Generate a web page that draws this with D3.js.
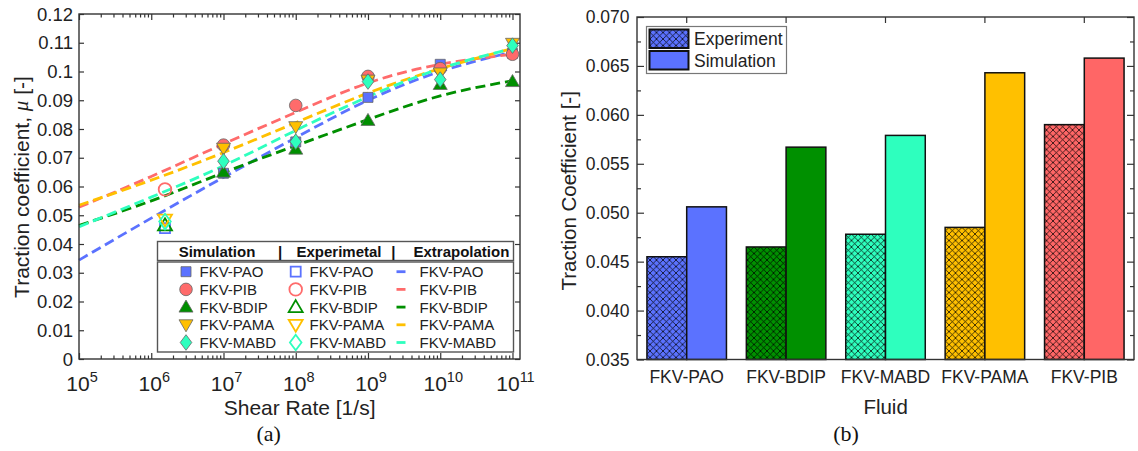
<!doctype html>
<html>
<head>
<meta charset="utf-8">
<script src="https://cdn.jsdelivr.net/npm/d3@7"></script>
<style>
  body { margin: 0; background: #fff; }
  svg { display: block; font-family: "Liberation Sans", Arial, sans-serif; }
</style>
</head>
<body>
<svg id="fig" width="1138" height="451"></svg>
<script>
// ---------- panel (a) : traction vs shear rate ----------
const fluidsA = ["FKV-PAO", "FKV-PIB", "FKV-BDIP", "FKV-PAMA", "FKV-MABD"];
const colorsA = ["#5b72ff", "#ff6b6b", "#008f00", "#ffc000", "#2effbe"];
const shapesA = ["square", "circle", "up", "down", "diamond"];

const simRates = [1e7, 1e8, 1e9, 1e10, 1e11];
const simPAO  = [0.0646, 0.0755, 0.0910, 0.1025, 0.1063];
const simPIB  = [0.0744, 0.0882, 0.0983, 0.1010, 0.1060];
const simBDIP = [0.0650, 0.0730, 0.0830, 0.0955, 0.0965];
const simPAMA = [0.0733, 0.0808, 0.0970, 0.0995, 0.1098];
const simMABD = [0.0688, 0.0756, 0.0965, 0.0972, 0.1090];

const expRate = 1.55e6;
const expVals = [0.0455, 0.0590, 0.0465, 0.0485, 0.0478];

const extRates = [1e5, 1e6, 1e7, 1e8, 1e9, 1e10, 1e11];
const extPAO  = [0.0344, 0.0490, 0.0632, 0.0770, 0.0900, 0.1000, 0.1068];
const extPIB  = [0.0528, 0.0635, 0.0748, 0.0858, 0.0960, 0.1025, 0.1060];
const extBDIP = [0.0465, 0.0550, 0.0648, 0.0742, 0.0833, 0.0915, 0.0968];
const extPAMA = [0.0535, 0.0622, 0.0718, 0.0822, 0.0925, 0.1010, 0.1080];
const extMABD = [0.0460, 0.0563, 0.0672, 0.0795, 0.0912, 0.1010, 0.1080];

const simA = [simPAO, simPIB, simBDIP, simPAMA, simMABD];
const extA = [extPAO, extPIB, extBDIP, extPAMA, extMABD];
const yTicksA = [0, 0.01, 0.02, 0.03, 0.04, 0.05, 0.06, 0.07, 0.08, 0.09, 0.1, 0.11, 0.12];
const xTicksA = [1e5, 1e6, 1e7, 1e8, 1e9, 1e10, 1e11];

// ---------- panel (b) : bar comparison ----------
const fluidsB = ["FKV-PAO", "FKV-BDIP", "FKV-MABD", "FKV-PAMA", "FKV-PIB"];
const colorsB = ["#5b72ff", "#009000", "#2effbe", "#ffc000", "#ff6666"];
const seriesB = ["Experiment", "Simulation"];
const expB = [0.0455, 0.0465, 0.0478, 0.0485, 0.0590];
const simB = [0.0506, 0.0567, 0.0579, 0.0643, 0.0658];
const yTicksB = [0.035, 0.040, 0.045, 0.050, 0.055, 0.060, 0.065, 0.070];

const svg = d3.select("#fig");
const frameColor = "#333";

// marker drawing
function marker(g, shape, color, filled, x, y) {
  const stroke = filled ? "#666" : color;
  const sw = filled ? 0.8 : 1.8;
  const fill = filled ? color : "none";
  let el;
  if (shape === "circle") {
    el = g.append("circle").attr("cx", x).attr("cy", y).attr("r", 6.3);
  } else {
    const p = {
      square: "M-5,-5h10v10h-10Z",
      up: "M0,-7L7,5L-7,5Z",
      down: "M0,7L7,-5L-7,-5Z",
      diamond: "M0,-7.8L5.8,0L0,7.8L-5.8,0Z"
    }[shape];
    el = g.append("path").attr("d", p).attr("transform", `translate(${x},${y})`);
  }
  el.attr("fill", fill).attr("stroke", stroke).attr("stroke-width", sw);
}

// ====== panel (a) ======
const A = { x0: 79, x1: 520, y0: 14, y1: 359 };
const ax = d3.scaleLog().domain([1e5, Math.pow(10, 11.104)]).range([A.x0, A.x1]);
const ay = d3.scaleLinear().domain([0, 0.12]).range([A.y1, A.y0]);
const ga = svg.append("g");

const minorA = ax.ticks().filter(v => !xTicksA.includes(v));

ga.append("g").attr("transform", `translate(0,${A.y1})`)
  .call(d3.axisBottom(ax).tickValues(xTicksA).tickSize(-6).tickFormat(""));
ga.append("g").attr("transform", `translate(0,${A.y1})`)
  .call(d3.axisBottom(ax).tickValues(minorA).tickSize(-3.5).tickFormat(""));
ga.append("g").attr("transform", `translate(0,${A.y0})`)
  .call(d3.axisTop(ax).tickValues(xTicksA).tickSize(-6).tickFormat(""));
ga.append("g").attr("transform", `translate(0,${A.y0})`)
  .call(d3.axisTop(ax).tickValues(minorA).tickSize(-3.5).tickFormat(""));
ga.append("g").attr("transform", `translate(${A.x0},0)`)
  .call(d3.axisLeft(ay).tickValues(yTicksA).tickSize(-5).tickFormat(""));
ga.append("g").attr("transform", `translate(${A.x1},0)`)
  .call(d3.axisRight(ay).tickValues(yTicksA).tickSize(-5).tickFormat(""));
ga.selectAll(".domain").remove();
ga.selectAll(".tick line").attr("stroke", frameColor).attr("stroke-width", 1.2);

// y labels
ga.selectAll(".ylab").data(yTicksA).join("text")
  .attr("x", A.x0 - 6).attr("y", d => ay(d))
  .attr("text-anchor", "end").attr("dominant-baseline", "central")
  .attr("font-size", 18.5).attr("fill", "#222")
  .text(d => String(+d.toFixed(2)));

// x labels with exponent
xTicksA.forEach(v => {
  const t = ga.append("text").attr("x", ax(v) + 3).attr("y", 391)
    .attr("text-anchor", "middle").attr("font-size", 21).attr("fill", "#222");
  t.append("tspan").text("10");
  t.append("tspan").attr("dy", -9).attr("font-size", 14.5).text(Math.round(Math.log10(v)));
});

// extrapolation curves
const lineA = d3.line().x(d => ax(d[0])).y(d => ay(d[1])).curve(d3.curveNatural);
extA.forEach((vals, i) => {
  ga.append("path")
    .attr("d", lineA(extRates.map((r, k) => [r, vals[k]])))
    .attr("fill", "none").attr("stroke", colorsA[i]).attr("stroke-width", 2.8)
    .attr("stroke-dasharray", "10,5");
});

// experimental markers (open)
expVals.forEach((v, i) => marker(ga, shapesA[i], colorsA[i], false, ax(expRate), ay(v)));
// simulation markers (filled)
simA.forEach((vals, i) => {
  vals.forEach((v, k) => marker(ga, shapesA[i], colorsA[i], true, ax(simRates[k]), ay(v)));
});

// frame
ga.append("rect").attr("x", A.x0).attr("y", A.y0)
  .attr("width", A.x1 - A.x0).attr("height", A.y1 - A.y0)
  .attr("fill", "none").attr("stroke", frameColor).attr("stroke-width", 1.4);

// legend (a)
const lg = ga.append("g");
lg.append("rect").attr("x", 157.5).attr("y", 241.5).attr("width", 356).attr("height", 19)
  .attr("fill", "#fff").attr("stroke", "#555").attr("stroke-width", 1.4);
lg.append("rect").attr("x", 157.5).attr("y", 262).attr("width", 356).attr("height", 90)
  .attr("fill", "#fff").attr("stroke", "#555").attr("stroke-width", 1.4);
const heads = [["Simulation", 217], ["|", 280], ["Experimetal", 339], ["|", 393.3], ["Extrapolation", 461.4]];
heads.forEach(h => {
  lg.append("text").attr("x", h[1]).attr("y", 256.5).attr("text-anchor", "middle")
    .attr("font-size", 15).attr("font-weight", "bold").attr("fill", "#111").text(h[0]);
});
const rowY = [271.7, 289.4, 307.1, 324.8, 342.5];
fluidsA.forEach((f, i) => {
  const y = rowY[i];
  marker(lg, shapesA[i], colorsA[i], true, 186, y);
  marker(lg, shapesA[i], colorsA[i], false, 295.7, y);
  lg.append("line").attr("x1", 396.5).attr("x2", 405.5).attr("y1", y).attr("y2", y)
    .attr("stroke", colorsA[i]).attr("stroke-width", 2.8);
  [199.5, 309.5, 419.5].forEach(x => {
    lg.append("text").attr("x", x).attr("y", y).attr("dominant-baseline", "central")
      .attr("font-size", 15).attr("fill", "#222").text(f);
  });
});

// titles (a)
ga.append("text").attr("x", 299.6).attr("y", 414.5).attr("text-anchor", "middle")
  .attr("font-size", 21).attr("fill", "#222").text("Shear Rate [1/s]");
const yt = ga.append("text").attr("transform", "translate(21,187) rotate(-90)")
  .attr("text-anchor", "middle").attr("dominant-baseline", "central")
  .attr("font-size", 21).attr("fill", "#222");
yt.append("tspan").text("Traction coefficient, ");
yt.append("tspan").attr("font-family", "Liberation Serif, serif").attr("font-style", "italic").text("μ");
yt.append("tspan").text(" [-]");
ga.append("text").attr("x", 268.6).attr("y", 441).attr("text-anchor", "middle")
  .attr("font-family", "Liberation Serif, serif").attr("font-size", 22).attr("fill", "#111").text("(a)");

// ====== panel (b) ======
const B = { x0: 637, x1: 1134, y0: 17, y1: 359.5 };
const bx = d3.scaleBand().domain(fluidsB).range([B.x0, B.x1]).paddingInner(0.2).paddingOuter(0.1);
const bs = d3.scaleBand().domain(seriesB).range([0, bx.bandwidth()]);
const by = d3.scaleLinear().domain([0.035, 0.070]).range([B.y1, B.y0]);
const gb = svg.append("g");

// hatch patterns
const defs = svg.append("defs");
colorsB.forEach((c, i) => {
  const p = defs.append("pattern").attr("id", "hatch" + i)
    .attr("patternUnits", "userSpaceOnUse").attr("width", 6.5).attr("height", 6.5);
  p.append("rect").attr("width", 6.5).attr("height", 6.5).attr("fill", c);
  p.append("path").attr("d", "M0,0L6.5,6.5M6.5,0L0,6.5M-1,1L1,-1M5.5,7.5L7.5,5.5")
    .attr("stroke", "#000").attr("stroke-opacity", 0.85).attr("stroke-width", 0.85);
});

const minorB = d3.range(0.0375, 0.070, 0.005);
gb.append("g").attr("transform", `translate(${B.x0},0)`)
  .call(d3.axisLeft(by).tickValues(yTicksB).tickSize(-7).tickFormat(""));
gb.append("g").attr("transform", `translate(${B.x0},0)`)
  .call(d3.axisLeft(by).tickValues(minorB).tickSize(-4).tickFormat(""));
gb.append("g").attr("transform", `translate(${B.x1},0)`)
  .call(d3.axisRight(by).tickValues(yTicksB).tickSize(-7).tickFormat(""));
gb.append("g").attr("transform", `translate(${B.x1},0)`)
  .call(d3.axisRight(by).tickValues(minorB).tickSize(-4).tickFormat(""));
gb.append("g").attr("transform", `translate(0,${B.y0})`)
  .call(d3.axisTop(bx).tickSize(-6).tickFormat(""));
gb.selectAll(".domain").remove();
gb.selectAll(".tick line").attr("stroke", frameColor).attr("stroke-width", 1.2);

gb.selectAll(".ylab").data(yTicksB).join("text")
  .attr("x", B.x0 - 7.5).attr("y", d => by(d))
  .attr("text-anchor", "end").attr("dominant-baseline", "central")
  .attr("font-size", 17.5).attr("fill", "#222")
  .text(d3.format(".3f"));
gb.selectAll(".xlab").data(fluidsB).join("text")
  .attr("x", d => bx(d) + bx.bandwidth() / 2).attr("y", 383)
  .attr("text-anchor", "middle").attr("font-size", 17.5).attr("fill", "#222")
  .text(d => d);

// bars
fluidsB.forEach((f, i) => {
  [expB[i], simB[i]].forEach((v, k) => {
    gb.append("rect")
      .attr("x", bx(f) + bs(seriesB[k])).attr("y", by(v))
      .attr("width", bs.bandwidth()).attr("height", by(0.035) - by(v))
      .attr("fill", k === 0 ? `url(#hatch${i})` : colorsB[i])
      .attr("stroke", "#111").attr("stroke-width", 1.5);
  });
});

gb.append("rect").attr("x", B.x0).attr("y", B.y0)
  .attr("width", B.x1 - B.x0).attr("height", B.y1 - B.y0)
  .attr("fill", "none").attr("stroke", frameColor).attr("stroke-width", 1.4);

// legend (b)
const lb = gb.append("g");
lb.append("rect").attr("x", 646.5).attr("y", 26.5).attr("width", 140).attr("height", 47)
  .attr("fill", "#fff").attr("stroke", "#777").attr("stroke-width", 1.2);
seriesB.forEach((s, k) => {
  const y = 29.5 + k * 21.5;
  lb.append("rect").attr("x", 649.5).attr("y", y).attr("width", 39).attr("height", 18.5)
    .attr("fill", k === 0 ? "url(#hatch0)" : colorsB[0])
    .attr("stroke", "#111").attr("stroke-width", 2);
  lb.append("text").attr("x", 694).attr("y", y + 9.5).attr("dominant-baseline", "central")
    .attr("font-size", 17.5).attr("fill", "#222").text(s);
});

// titles (b)
gb.append("text").attr("x", 885.6).attr("y", 414).attr("text-anchor", "middle")
  .attr("font-size", 20.5).attr("fill", "#222").text("Fluid");
gb.append("text").attr("transform", "translate(568.7,190.8) rotate(-90)")
  .attr("text-anchor", "middle").attr("dominant-baseline", "central")
  .attr("font-size", 20.5).attr("fill", "#222").text("Traction Coefficient [-]");
gb.append("text").attr("x", 846).attr("y", 441).attr("text-anchor", "middle")
  .attr("font-family", "Liberation Serif, serif").attr("font-size", 22).attr("fill", "#111").text("(b)");
</script>
</body>
</html>
